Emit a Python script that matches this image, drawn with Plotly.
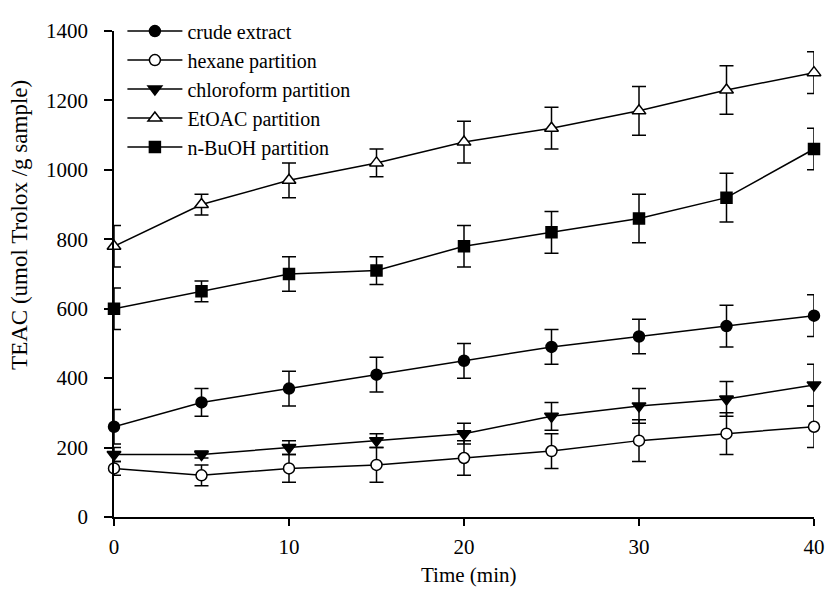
import plotly.graph_objects as go

time = [0, 5, 10, 15, 20, 25, 30, 35, 40]

crude = [260, 330, 370, 410, 450, 490, 520, 550, 580]
crude_err = [50, 40, 50, 50, 50, 50, 50, 60, 60]

hexane = [140, 120, 140, 150, 170, 190, 220, 240, 260]
hexane_err = [20, 30, 40, 50, 50, 50, 60, 60, 60]

chloroform = [180, 180, 200, 220, 240, 290, 320, 340, 380]
chloroform_err = [20, 10, 20, 20, 30, 40, 50, 50, 60]

etoac = [780, 900, 970, 1020, 1080, 1120, 1170, 1230, 1280]
etoac_err = [60, 30, 50, 40, 60, 60, 70, 70, 60]

buoh = [600, 650, 700, 710, 780, 820, 860, 920, 1060]
buoh_err = [60, 30, 50, 40, 60, 60, 70, 70, 60]

names = ["crude extract", "hexane partition", "chloroform partition",
         "EtOAC partition", "n-BuOH partition"]

FONT = "Liberation Serif, Times New Roman, serif"

series = [
    (names[0], crude, crude_err, "circle", "black", 11),
    (names[1], hexane, hexane_err, "circle", "white", 11),
    (names[2], chloroform, chloroform_err, "triangle-down", "black", 12),
    (names[3], etoac, etoac_err, "triangle-up", "white", 12),
    (names[4], buoh, buoh_err, "square", "black", 11),
]

fig = go.Figure()
for name, ys, errs, sym, fill, size in series:
    fig.add_trace(go.Scatter(
        x=time, y=ys, name=name, mode="lines+markers",
        line=dict(color="black", width=1.5),
        marker=dict(symbol=sym, color=fill, size=size,
                    line=dict(color="black", width=1.5)),
        error_y=dict(type="data", array=errs, visible=True,
                     color="black", thickness=1.5, width=7),
        cliponaxis=False,
    ))

fig.update_layout(
    width=837, height=597,
    margin=dict(l=114, r=15, t=22, b=80),
    paper_bgcolor="white", plot_bgcolor="white",
    font=dict(family=FONT, size=21, color="black"),
    showlegend=True,
    legend=dict(x=0.012, y=1.04, xanchor="left", yanchor="top",
                bgcolor="rgba(0,0,0,0)",
                font=dict(size=20, family=FONT, color="black"),
                tracegroupgap=0, itemwidth=55),
    xaxis=dict(range=[0, 40], tickvals=[0, 10, 20, 30, 40],
               showline=True, linecolor="black", linewidth=1.5,
               ticks="outside", ticklen=7, tickwidth=1.5, tickcolor="black",
               showgrid=False, zeroline=False, ticklabelstandoff=3,
               ticklabeloverflow="allow",
               tickfont=dict(size=21, family=FONT, color="black")),
    yaxis=dict(range=[0, 1400], tickvals=[0, 200, 400, 600, 800, 1000, 1200, 1400],
               showline=True, linecolor="black", linewidth=1.5,
               ticks="outside", ticklen=8, tickwidth=1.5, tickcolor="black",
               showgrid=False, zeroline=False, ticklabelstandoff=12,
               ticklabeloverflow="allow",
               tickfont=dict(size=21, family=FONT, color="black")),
    annotations=[
        dict(text="TEAC (umol Trolox /g sample)", textangle=-90,
             xref="paper", yref="paper", x=-0.135, y=0.6,
             xanchor="center", yanchor="middle", showarrow=False,
             font=dict(size=23, family=FONT, color="black")),
        dict(text="Time (min)", xref="paper", yref="paper",
             x=0.506, y=-0.12, xanchor="center", yanchor="middle",
             showarrow=False, font=dict(size=21, family=FONT, color="black")),
    ],
)

fig.write_html("out.html")
